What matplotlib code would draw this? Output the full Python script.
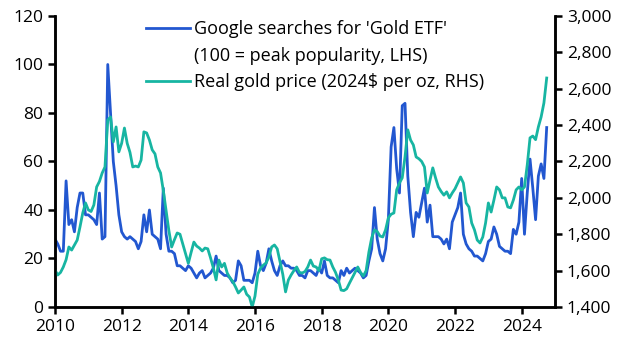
import numpy as np
import matplotlib
matplotlib.use("Agg")
import matplotlib.pyplot as plt
from matplotlib.lines import Line2D
from matplotlib.ticker import FuncFormatter

plt.rcParams['font.family'] = ['Open Sans', 'DejaVu Sans']

# monthly data, Jan 2010 - Oct 2024
google = [
    28, 26, 23, 23, 52, 34, 36, 31, 41, 47, 47, 38,   # 2010
    38, 37, 36, 34, 47, 28, 29, 100, 80, 60, 50, 38,  # 2011
    31, 29, 28, 29, 28, 27, 24, 27, 38, 31, 40, 30,   # 2012
    29, 28, 24, 49, 30, 23, 23, 22, 17, 17, 16, 15,   # 2013
    17, 16, 14, 12, 14, 15, 12, 13, 14, 16, 21, 15,   # 2014
    14, 13, 13, 12, 10, 11, 19, 17, 11, 11, 11, 10,   # 2015
    14, 23, 17, 15, 18, 24, 19, 15, 13, 17, 19, 17,   # 2016
    17, 16, 16, 15, 13, 13, 12, 15, 15, 14, 13, 16,   # 2017
    14, 19, 13, 12, 12, 11, 10, 15, 13, 16, 14, 15,   # 2018
    16, 15, 14, 12, 13, 19, 24, 41, 28, 22, 19, 24,   # 2019
    36, 66, 74, 57, 47, 83, 84, 54, 39, 29, 39, 37,   # 2020
    43, 49, 35, 42, 29, 29, 29, 28, 26, 28, 24, 35,   # 2021
    38, 41, 47, 30, 26, 24, 23, 21, 21, 20, 19, 22,   # 2022
    27, 28, 33, 30, 25, 24, 23, 23, 22, 32, 30, 35,   # 2023
    53, 30, 47, 61, 49, 36, 54, 59, 53, 74,           # 2024
]
gold = [
    1603, 1576, 1590, 1620, 1660, 1730, 1713, 1740, 1768, 1840, 1917, 1972,  # 2010
    1934, 1925, 1961, 2060, 2090, 2137, 2170, 2428, 2445, 2308, 2390, 2253,  # 2011
    2300, 2384, 2300, 2250, 2170, 2175, 2170, 2208, 2363, 2357, 2318, 2264,  # 2012
    2242, 2170, 2137, 2040, 1930, 1820, 1730, 1770, 1807, 1800, 1746, 1690,  # 2013
    1640, 1700, 1757, 1735, 1724, 1708, 1724, 1720, 1670, 1615, 1549, 1658,  # 2014
    1620, 1640, 1587, 1560, 1540, 1510, 1477, 1493, 1510, 1470, 1455, 1400,  # 2015
    1460, 1580, 1614, 1630, 1642, 1675, 1730, 1741, 1720, 1650, 1580, 1483,  # 2016
    1548, 1576, 1600, 1620, 1590, 1587, 1595, 1620, 1658, 1625, 1620, 1600,  # 2017
    1665, 1670, 1660, 1658, 1620, 1590, 1548, 1493, 1490, 1500, 1531, 1560,  # 2018
    1590, 1620, 1590, 1570, 1600, 1702, 1780, 1824, 1815, 1790, 1785, 1824,  # 2019
    1890, 1910, 1917, 2044, 2082, 2110, 2225, 2374, 2318, 2291, 2225, 2215,  # 2020
    2200, 2170, 2027, 2098, 2165, 2110, 2060, 2035, 2015, 2033, 2000, 2027,  # 2021
    2050, 2082, 2115, 2082, 1972, 1950, 1862, 1824, 1768, 1752, 1785, 1862,  # 2022
    1972, 1922, 1988, 2060, 2044, 2000, 2000, 1950, 1945, 1988, 2044, 2060,  # 2023
    2044, 2060, 2181, 2330, 2340, 2320, 2390, 2445, 2522, 2659,              # 2024
]
dates = 2010 + np.arange(len(google)) / 12

blue = '#2257d0'
teal = '#17b5a2'

fig = plt.figure(figsize=(6.29, 3.54), dpi=100)
ax = fig.add_axes([0.0874, 0.1328, 0.7950, 0.8220])
ax2 = ax.twinx()

l1, = ax.plot(dates, google, color=blue, lw=2.0, label="Google searches for 'Gold ETF'")
l2, = ax2.plot(dates, gold, color=teal, lw=2.0, label="Real gold price (2024$ per oz, RHS)")
# second line of the first legend entry, handle left blank
blank = Line2D([], [], color='none', label="(100 = peak popularity, LHS)")

ax.set_xlim(2010, 2025)
ax.set_ylim(0, 120)
ax2.set_ylim(1400, 3000)
ax.set_xticks(range(2010, 2025, 2))
ax.set_yticks(range(0, 121, 20))
ax2.set_yticks(range(1400, 3001, 200))
ax2.yaxis.set_major_formatter(FuncFormatter(lambda v, p: f'{int(v):,}'))

for a in (ax, ax2):
    a.spines['top'].set_visible(False)
    for s in ('left', 'right', 'bottom'):
        a.spines[s].set_linewidth(1.8)
    a.tick_params(width=1.8, length=5, labelsize=12.5, direction='out')

leg = ax.legend(handles=[l1, blank, l2], loc='upper left', bbox_to_anchor=(0.168, 1.01),
                frameon=False, fontsize=13, handlelength=2.4, handletextpad=0.25,
                labelspacing=0.47, borderaxespad=0)

fig.savefig('out.png', dpi=100)
